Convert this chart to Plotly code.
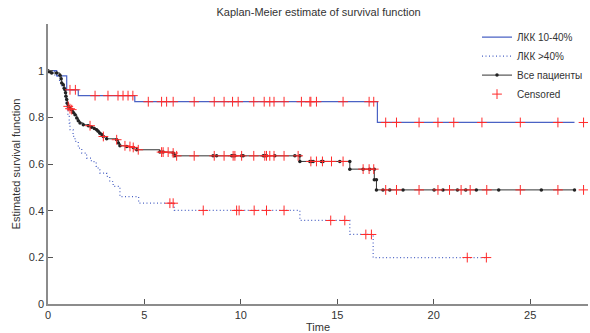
import plotly.graph_objects as go

# ---- data ----
# ЛКК 10-40% (step times / survival values)
blue_t = [0, 0.45, 0.97, 1.57, 4.5, 17.08]
blue_s = [1.0, 0.978, 0.918, 0.893, 0.867, 0.778]
blue_end = 27.3
blue_cens = [1.14, 1.42, 2.44, 3.11, 3.63, 3.89, 4.15, 4.4, 5.2, 5.89, 6.15, 6.49,
             7.58, 8.62, 9.13, 9.57, 9.86, 10.67, 11.21, 11.5, 11.72, 12.24, 13.14,
             13.58, 13.63, 13.92, 15.3, 16.65, 16.89, 17.51, 18.07, 19.24, 20.22,
             21.04, 22.5, 24.49, 26.44, 27.77]

# ЛКК >40%
dot_t = [0, 0.35, 0.6, 0.7, 0.8, 0.88, 0.93, 0.98, 1.03, 1.1, 1.14, 1.3, 1.4, 1.57,
         1.75, 2.0, 2.25, 2.5, 2.6, 2.69, 3.04, 3.2, 3.38, 3.73, 4.7, 6.55, 13.06,
         15.65, 16.86]
dot_s = [1.0, 0.978, 0.955, 0.933, 0.918, 0.89, 0.862, 0.833, 0.804, 0.775, 0.747,
         0.718, 0.697, 0.668, 0.647, 0.625, 0.61, 0.59, 0.575, 0.561, 0.547, 0.525,
         0.504, 0.46, 0.432, 0.401, 0.358, 0.298, 0.199]
dot_end = 22.73
dot_cens = [6.32, 6.49, 8.05, 9.78, 9.91, 10.69, 11.33, 12.24, 14.66, 15.39, 16.48,
            16.77, 21.74, 22.73]

# Все пациенты
all_t = [0, 0.07, 0.19, 0.45, 0.62, 0.68, 0.71, 0.79, 0.84, 0.88, 0.91, 0.93, 0.97,
         1.0, 1.05, 1.14, 1.23, 1.31, 1.4, 1.49, 1.57, 1.66, 1.83, 2.09, 2.26, 2.4,
         2.52, 2.6, 2.69, 2.8, 2.87, 3.04, 3.56, 3.65, 3.73, 4.08, 4.42, 4.6, 5.8,
         5.97, 6.49, 6.58, 8.56, 8.74, 9.52, 9.6, 9.69, 10.04, 10.12, 11.16, 11.24,
         11.33, 11.76, 12.8, 13.06, 13.06, 13.58, 13.66, 13.75, 14.18, 14.26, 15.13,
         15.65, 15.65, 16.34, 16.68, 16.92, 16.92, 17.03, 17.03, 17.37, 17.72, 18.41,
         20.02, 20.48, 21.23, 21.66, 22.21, 23.37, 25.58, 27.3]
all_s = [1.0, 0.995, 0.99, 0.99, 0.98, 0.965, 0.947, 0.94, 0.925, 0.918, 0.905, 0.89,
         0.876, 0.86, 0.847, 0.837, 0.833, 0.821, 0.811, 0.797, 0.785, 0.776, 0.768,
         0.764, 0.758, 0.752, 0.747, 0.74, 0.732, 0.725, 0.718, 0.708, 0.704, 0.69,
         0.678, 0.675, 0.671, 0.661, 0.651, 0.651, 0.647, 0.635, 0.635, 0.635, 0.635,
         0.635, 0.635, 0.635, 0.635, 0.635, 0.635, 0.635, 0.635, 0.635, 0.635, 0.611,
         0.611, 0.611, 0.611, 0.611, 0.611, 0.611, 0.611, 0.578, 0.578, 0.578, 0.578,
         0.532, 0.532, 0.489, 0.489, 0.489, 0.489, 0.489, 0.489, 0.489, 0.489, 0.489,
         0.489, 0.489, 0.489]
all_cens = [1.05, 1.14, 1.23, 2.18, 2.87, 3.56, 3.99, 4.25, 4.42, 4.68, 5.89, 5.97,
            6.23, 6.49, 6.67, 7.58, 8.62, 9.13, 9.6, 9.69, 10.04, 10.67, 11.24, 11.33,
            11.5, 11.72, 12.24, 12.97, 13.63, 13.92, 14.23, 14.7, 15.3, 16.34, 16.65,
            16.89, 17.51, 18.07, 19.24, 20.22, 20.82, 21.42, 21.89, 22.75, 24.49,
            26.44, 27.77]

y_ticks = [0, 0.2, 0.4, 0.6, 0.8, 1]
y_labels = ["0", "0.2", "0.4", "0.6", "0.8", "1"]
x_ticks = [0, 5, 10, 15, 20, 25]


def step_val(ts, ss, t):
    v = ss[0]
    for ti, si in zip(ts, ss):
        if ti <= t:
            v = si
    return v


BLUE = "#4a62c4"
FONT = "Arial, Liberation Sans, sans-serif"

fig = go.Figure()
fig.add_trace(go.Scatter(x=blue_t + [blue_end], y=blue_s + [blue_s[-1]], mode="lines",
                         line=dict(color=BLUE, width=1.2, shape="hv"), name="ЛКК 10-40%"))
fig.add_trace(go.Scatter(x=dot_t + [dot_end], y=dot_s + [dot_s[-1]], mode="lines",
                         line=dict(color=BLUE, width=1.2, shape="hv", dash="1px,2.5px"),
                         name="ЛКК >40%"))
fig.add_trace(go.Scatter(x=all_t, y=all_s, mode="lines+markers",
                         line=dict(color="#333333", width=1, shape="hv"),
                         marker=dict(color="#222222", size=3.5, symbol="circle"),
                         name="Все пациенты"))

cx, cy = [], []
for ts, ss, cs in [(blue_t, blue_s, blue_cens), (dot_t, dot_s, dot_cens), (all_t, all_s, all_cens)]:
    for c in cs:
        cx.append(c)
        cy.append(step_val(ts, ss, c))
fig.add_trace(go.Scatter(x=cx, y=cy, mode="markers", name="Censored",
                         marker=dict(symbol="cross-thin", size=7, color="#ff2a2a",
                                     line=dict(color="#ff2a2a", width=1))))

fig.update_layout(
    width=590, height=333,
    margin=dict(l=48, r=2, t=24, b=29),
    plot_bgcolor="white", paper_bgcolor="white",
    font=dict(family=FONT, size=11, color="#333333"),
    title=dict(text="Kaplan-Meier estimate of survival function", x=0.54, xanchor="center",
               y=0.965, yanchor="middle", font=dict(size=11, color="#333333")),
    showlegend=True,
    legend=dict(x=1.0, xanchor="right", y=1.005, yanchor="top", bgcolor="rgba(255,255,255,0)",
                font=dict(size=10, color="#333333"), tracegroupgap=0, itemwidth=30),
)
fig.update_xaxes(range=[0, 28], tickvals=x_ticks, ticktext=[str(v) for v in x_ticks],
                 showgrid=False, zeroline=False, showline=True, linecolor="#8c8c8c",
                 linewidth=1.5, ticks="inside", ticklen=5, tickcolor="#555555",
                 title=dict(text="Time", standoff=3, font=dict(size=11)),
                 tickfont=dict(size=11, color="#333333"))
fig.update_yaxes(range=[0, 1.2], tickvals=y_ticks, ticktext=y_labels,
                 showgrid=False, zeroline=False, showline=True, linecolor="#8c8c8c",
                 linewidth=1.5, ticks="inside", ticklen=5, tickcolor="#555555",
                 title=dict(text="Estimated survival function", standoff=6, font=dict(size=11)),
                 tickfont=dict(size=11, color="#333333"))

fig.write_html("out.html")
